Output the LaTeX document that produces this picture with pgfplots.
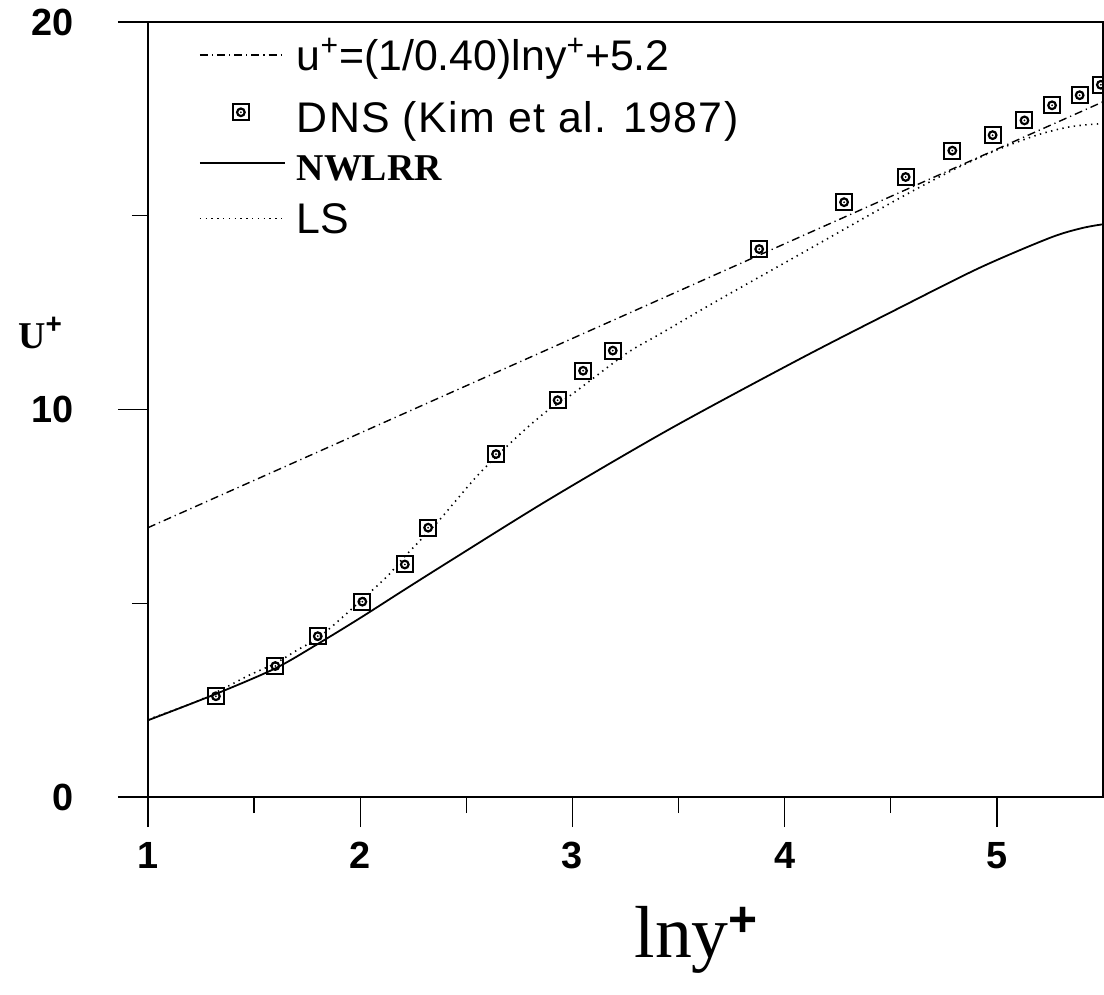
\documentclass[border=0pt]{standalone}
\usepackage{fontspec}
\setmainfont{Liberation Sans}
\newfontfamily\serif{Liberation Serif}
\usepackage{pgfplots}
\pgfplotsset{compat=1.18}

\pgfdeclareplotmark{sqcirc}{%
  \pgfsetlinewidth{1bp}%
  \pgfpathrectangle{\pgfpoint{-4bp}{-4bp}}{\pgfpoint{8bp}{8bp}}\pgfusepathqstroke
  \pgfsetlinewidth{1.1bp}%
  \pgfpathcircle{\pgfpointorigin}{1.9bp}\pgfusepathqstroke
  \pgfpathcircle{\pgfpointorigin}{0.5bp}\pgfusepathqfill
}
\pgfplotsset{
  limgA/.style={legend image code/.code={\draw[##1] (0bp,7bp) -- (42.5bp,7bp);}},
  limgB/.style={legend image code/.code={\draw[##1] plot coordinates {(20.5bp,6bp)};}},
  limgC/.style={legend image code/.code={\draw[##1] (0bp,5.75bp) -- (42.5bp,5.75bp);}},
  limgD/.style={legend image code/.code={\draw[##1] (0bp,-0.5bp) -- (42.5bp,-0.5bp);}},
}

\begin{document}
\begin{tikzpicture}
\begin{axis}[
  scale only axis, width=477.5bp, height=387.5bp,
  xmin=1, xmax=5.5, ymin=0, ymax=20,
  xtick={1,2,3,4,5}, minor xtick={1.5,2.5,3.5,4.5},
  ytick={0,10,20}, minor ytick={5,15},
  tick align=outside, tick pos=left,
  major tick length=15bp, minor tick length=8bp,
  axis line style={line width=1bp},
  every tick/.style={line width=0.7bp, black},
  /pgf/number format/assume math mode=true,
  ticklabel style={font=\bfseries\fontsize{19}{22}\selectfont},
  xticklabel style={anchor=north, inner sep=0pt, yshift=-7.5bp},
  yticklabel style={anchor=east, inner sep=0pt, xshift=-22bp},
  xlabel={{\serif\fontsize{37}{40}\selectfont lny}{\fontsize{25}{25}\selectfont\raisebox{0.42em}{\bfseries+}}},
  xlabel style={at={(axis description cs:0.574,0)}, anchor=base, yshift=-80bp},
  ylabel={{\serif\bfseries\fontsize{19}{22}\selectfont U}{\fontsize{14}{14}\selectfont\raisebox{0.55em}{\bfseries+}}},
  ylabel style={rotate=-90, anchor=center, at={(axis description cs:-0.113,0.599)}},
  legend cell align=left,
  legend style={draw=none, fill=none, at={(0,1)}, anchor=north west,
    xshift=25.5bp, yshift=-8bp, inner sep=0pt, outer sep=0pt,
    row sep=0pt, column sep=5.5bp,
    font=\fontsize{21.5}{24}\selectfont,
    cells={anchor=west},
    nodes={inner sep=0pt, text depth=}},
]
\addplot[black, line width=0.7bp, dash pattern=on 4bp off 2bp on 0.6bp off 2bp, limgA]
  coordinates {(1,6.95)(5.5,17.94)};
\addlegendentry{\rule[-15bp]{0pt}{31bp}u\textsuperscript{+}=(1/0.40)lny\textsuperscript{+}+5.2}

\addplot[black, only marks, mark=sqcirc, limgB]
  coordinates {
  (1.32,2.60)(1.60,3.38)(1.80,4.15)(2.01,5.04)(2.21,6.00)(2.32,6.95)
  (2.64,8.85)(2.93,10.24)(3.05,11.00)(3.19,11.52)(3.88,14.14)(4.28,15.35)
  (4.57,16.00)(4.79,16.68)(4.98,17.08)(5.13,17.46)(5.26,17.85)(5.39,18.11)(5.49,18.38)};
\addlegendentry{\rule[-8bp]{0pt}{24bp}{\addfontfeature{LetterSpace=3}DNS (Kim et al. 1987)}}

\addplot[black, line width=0.9bp, smooth, limgC]
  coordinates {
  (1.0,1.98)(1.32,2.66)(1.6,3.32)(1.8,3.95)(2.0,4.62)(2.2,5.32)(2.42,6.08)
  (2.89,7.68)(3.46,9.5)(4.07,11.3)(4.54,12.62)(4.92,13.66)(5.25,14.43)
  (5.4,14.68)(5.5,14.78)};
\addlegendentry{\rule[-10.5bp]{0pt}{26.5bp}{\serif\bfseries\fontsize{19}{22}\selectfont NWLRR}}

\addplot[black, line width=0.8bp, dash pattern=on 0.7bp off 2.2bp, smooth, limgD]
  coordinates {
  (1.0,2.0)(1.2,2.4)(1.32,2.7)(1.476,3.14)(1.6,3.45)(1.7,3.78)(1.8,4.1)
  (1.9,4.56)(2.04,5.25)(2.137,5.75)(2.2,6.15)(2.37,7.13)(2.56,8.34)(2.75,9.35)
  (2.88,9.96)(3.0,10.4)(3.25,11.43)(3.41,11.94)(3.68,12.8)(4.07,14.0)
  (4.54,15.45)(4.8,16.2)(5.01,16.72)(5.2,17.1)(5.35,17.3)(5.5,17.38)};
\addlegendentry{\rule{0pt}{16bp}LS}

\coordinate (SW) at (rel axis cs:0,0);
\end{axis}
\pgfresetboundingbox
\path[use as bounding box] (SW) ++(-74bp,-99bp) rectangle ++(552bp,497.5bp);
\end{tikzpicture}
\end{document}
